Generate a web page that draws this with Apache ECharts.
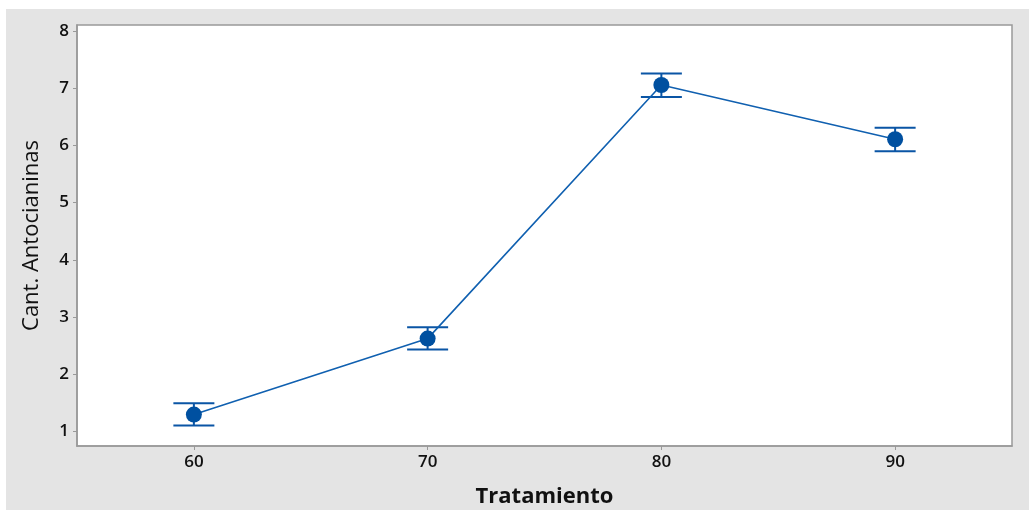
<!DOCTYPE html>
<html>
<head>
<meta charset="utf-8">
<script src="https://cdn.jsdelivr.net/npm/echarts@6/dist/echarts.min.js"></script>
<style>
html,body{margin:0;padding:0;background:#fff;}
#c{width:1029px;height:510px;}
</style>
</head>
<body>
<div id="c"></div>
<script>
var tratamientos = [60, 70, 80, 90];
var medias = [1.29, 2.62, 7.06, 6.11];
var limSup = [1.49, 2.82, 7.26, 6.31];
var limInf = [1.10, 2.43, 6.85, 5.90];
var xTicks = [60, 70, 80, 90];
var yTicks = [1, 2, 3, 4, 5, 6, 7, 8];

var lineData = tratamientos.map(function (t, i) { return [t, medias[i]]; });
var errData = tratamientos.map(function (t, i) { return [t, limInf[i], limSup[i]]; });

var chart = echarts.init(document.getElementById('c'));
var blue = '#0A55A5';
var font = '"Open Sans", "DejaVu Sans", sans-serif';

chart.setOption({
  animation: false,
  backgroundColor: '#ffffff',
  graphic: [{
    type: 'rect', z: -10, silent: true,
    shape: { x: 6, y: 9, width: 1023, height: 501 },
    style: { fill: '#E4E4E4' }
  }],
  grid: {
    left: 77, right: 17, top: 25, bottom: 64,
    outerBoundsMode: 'none', containLabel: false,
    show: true, backgroundColor: '#ffffff', borderColor: '#999999', borderWidth: 1.5
  },
  xAxis: {
    type: 'value', min: 55, max: 95,
    name: 'Tratamiento', nameLocation: 'middle', nameGap: 40,
    nameTextStyle: { fontFamily: font, fontSize: 22, fontWeight: 'bold', color: '#111' },
    axisLine: { show: true, lineStyle: { color: '#999999', width: 1.5 } },
    axisTick: { show: true, customValues: xTicks, length: 4, lineStyle: { color: '#999999' } },
    axisLabel: { customValues: xTicks, fontFamily: font, fontSize: 17, fontWeight: 600, color: '#111', margin: 8 },
    splitLine: { show: false }
  },
  yAxis: {
    type: 'value', min: 0.74, max: 8.11,
    name: 'Cant. Antocianinas', nameLocation: 'middle', nameGap: 34,
    nameTextStyle: { fontFamily: font, fontSize: 22, color: '#111' },
    axisLine: { show: true, lineStyle: { color: '#999999', width: 1.5 } },
    axisTick: { show: true, customValues: yTicks, length: 4, lineStyle: { color: '#999999' } },
    axisLabel: { customValues: yTicks, fontFamily: font, fontSize: 17, fontWeight: 600, color: '#111', margin: 8 },
    splitLine: { show: false }
  },
  series: [{
    type: 'custom',
    data: errData,
    z: 3,
    renderItem: function (params, api) {
      var x = api.value(0);
      var lo = api.coord([x, api.value(1)]);
      var hi = api.coord([x, api.value(2)]);
      var hw = 20.5;
      var st = { stroke: blue, lineWidth: 2 };
      return {
        type: 'group',
        children: [
          { type: 'line', shape: { x1: lo[0], y1: lo[1], x2: hi[0], y2: hi[1] }, style: st },
          { type: 'line', shape: { x1: lo[0] - hw, y1: lo[1], x2: lo[0] + hw, y2: lo[1] }, style: st },
          { type: 'line', shape: { x1: hi[0] - hw, y1: hi[1], x2: hi[0] + hw, y2: hi[1] }, style: st }
        ]
      };
    }
  }, {
    type: 'line',
    data: lineData,
    z: 4,
    symbol: 'circle',
    symbolSize: 16,
    lineStyle: { color: '#1060B0', width: 1.6 },
    itemStyle: { color: '#0050A0' }
  }]
});
</script>
</body>
</html>
